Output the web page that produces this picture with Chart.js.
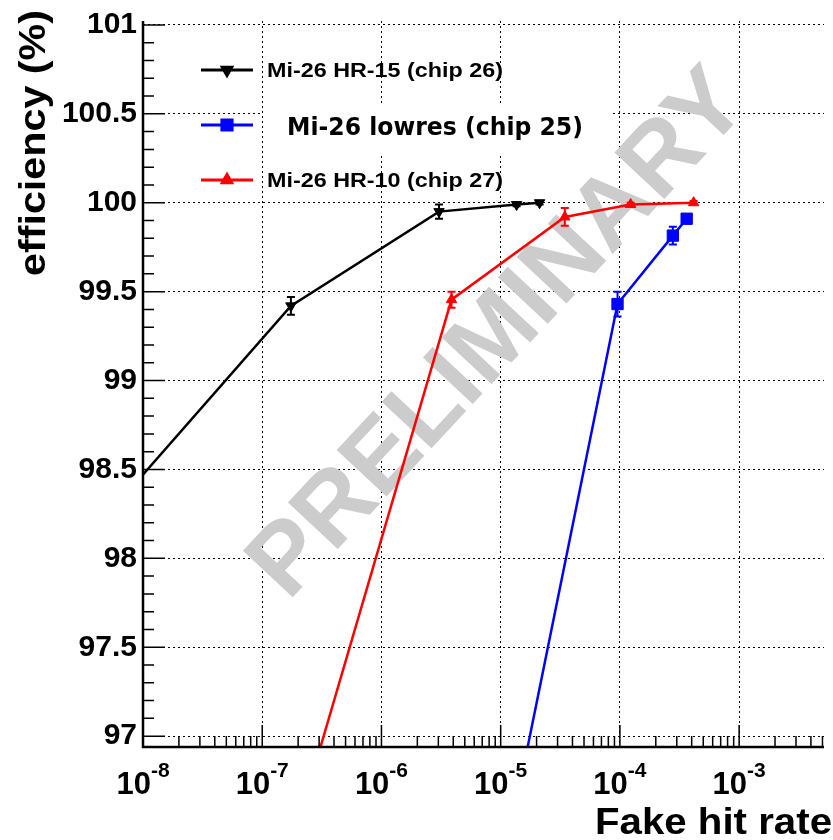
<!DOCTYPE html>
<html>
<head>
  <meta charset="UTF-8">
  <title>Efficiency vs fake hit rate</title>
  <script src="https://cdn.jsdelivr.net/npm/chart.js"></script>
  <style>
    body {
      margin: 0;
      background: #fff;
    }
    #wrap {
      width: 833px;
      height: 840px;
    }
  </style>
</head>
<body>
  <div id="wrap"><canvas id="eff" width="833" height="840"></canvas></div>

  <script>
    const seriesNames = ['Mi-26 HR-15 (chip 26)', 'Mi-26 lowres (chip 25)', 'Mi-26 HR-10 (chip 27)'];

    // fake hit rate, efficiency (%), error on efficiency
    // first point of each series lies outside the frame (line runs off the edge)
    const hr15Rate = [5e-9, 1.74e-7, 3.04e-6, 1.36e-5, 2.12e-5];
    const hr15Eff  = [98.24, 99.42, 99.95, 99.99, 100.0];
    const hr15Err  = [0, 0.05, 0.04, 0.01, 0.01];

    const lowresRate = [1.24e-5, 9.55e-5, 2.78e-4, 3.63e-4];
    const lowresEff  = [96.5, 99.43, 99.815, 99.91];
    const lowresErr  = [0, 0.07, 0.05, 0.01];

    const hr10Rate = [1.98e-7, 3.87e-6, 3.45e-5, 1.23e-4, 4.15e-4];
    const hr10Eff  = [96.5, 99.455, 99.92, 99.99, 100.0];
    const hr10Err  = [0, 0.045, 0.05, 0.01, 0.01];

    const xTickExps = [-8, -7, -6, -5, -4, -3];
    const yTickValues = [97, 97.5, 98, 98.5, 99, 99.5, 100, 100.5, 101];
    const yTickLabels = ['97', '97.5', '98', '98.5', '99', '99.5', '100', '100.5', '101'];

    const FONT = '"Liberation Sans", Arial, sans-serif';
    Chart.defaults.font.family = FONT;

    const toPoints = (xs, ys) => xs.map((x, i) => ({ x: x, y: ys[i] }));

    const series = [
      { name: seriesNames[0], color: '#000000', style: 'triangle', rot: 180, radius: 6, rate: hr15Rate, eff: hr15Eff, err: hr15Err },
      { name: seriesNames[1], color: '#0000ff', style: 'rect', rot: 0, radius: 8, rate: lowresRate, eff: lowresEff, err: lowresErr },
      { name: seriesNames[2], color: '#ff0000', style: 'triangle', rot: 0, radius: 6, rate: hr10Rate, eff: hr10Eff, err: hr10Err }
    ];

    function stretchText(ctx, text, x, y, width, align) {
      const w = ctx.measureText(text).width;
      ctx.save();
      ctx.translate(x, y);
      ctx.scale(width / w, 1);
      ctx.textAlign = align || 'left';
      ctx.fillText(text, 0, 0);
      ctx.restore();
    }

    // watermark + white box behind the middle legend entry
    const underlay = {
      id: 'underlay',
      beforeDatasetsDraw(chart) {
        const ctx = chart.ctx;
        ctx.save();
        ctx.translate(494, 330);
        ctx.rotate(-47 * Math.PI / 180);
        ctx.fillStyle = '#cccccc';
        ctx.font = 'bold 99px ' + FONT;
        ctx.textAlign = 'center';
        ctx.textBaseline = 'alphabetic';
        ctx.fillText('PRELIMINARY', 0, 35);
        ctx.restore();

        ctx.save();
        ctx.fillStyle = '#ffffff';
        ctx.fillRect(263, 105, 348, 48);
        ctx.restore();
      }
    };

    const errorBars = {
      id: 'errorBars',
      afterDatasetsDraw(chart) {
        const ctx = chart.ctx;
        const xs = chart.scales.x, ys = chart.scales.y;
        ctx.save();
        ctx.lineWidth = 2;
        series.forEach(s => {
          ctx.strokeStyle = s.color;
          s.rate.forEach((r, i) => {
            if (!s.err[i]) return;
            const px = xs.getPixelForValue(r);
            const y1 = ys.getPixelForValue(s.eff[i] + s.err[i]);
            const y2 = ys.getPixelForValue(s.eff[i] - s.err[i]);
            ctx.beginPath();
            ctx.moveTo(px, y1); ctx.lineTo(px, y2);
            ctx.moveTo(px - 4, y1); ctx.lineTo(px + 4, y1);
            ctx.moveTo(px - 4, y2); ctx.lineTo(px + 4, y2);
            ctx.stroke();
          });
        });
        ctx.restore();
      }
    };

    // ROOT-style frame: axis lines, inward ticks, 10^n labels, titles, legend
    const frame = {
      id: 'frame',
      afterDraw(chart) {
        const ctx = chart.ctx;
        const a = chart.chartArea;
        const xs = chart.scales.x, ys = chart.scales.y;
        ctx.save();
        ctx.strokeStyle = '#000';
        ctx.fillStyle = '#000';

        ctx.lineWidth = 2.5;
        ctx.beginPath();
        ctx.moveTo(a.left, a.top); ctx.lineTo(a.left, a.bottom); ctx.lineTo(a.right, a.bottom);
        ctx.stroke();

        ctx.lineWidth = 1.5;
        ctx.beginPath();
        for (let k = 0; k <= 40; k++) {
          const v = 97 + k * 0.1;
          const py = ys.getPixelForValue(v);
          const len = k % 5 === 0 ? 22 : 11;
          ctx.moveTo(a.left, py); ctx.lineTo(a.left + len, py);
        }
        for (let e = -8; e <= -3; e++) {
          for (let m = 1; m <= 9; m++) {
            const v = m * Math.pow(10, e);
            if (v > xs.max) continue;
            const px = xs.getPixelForValue(v);
            const len = m === 1 ? 22 : 11;
            ctx.moveTo(px, a.bottom); ctx.lineTo(px, a.bottom - len);
          }
        }
        ctx.stroke();

        xTickExps.forEach(e => {
          const px = xs.getPixelForValue(Math.pow(10, e));
          ctx.font = 'bold 31px ' + FONT;
          const w1 = ctx.measureText('10').width;
          ctx.font = 'bold 21px ' + FONT;
          const sup = '-' + Math.abs(e);
          const w2 = ctx.measureText(sup).width;
          const x0 = px - (w1 + w2) / 2;
          ctx.textAlign = 'left';
          ctx.font = 'bold 31px ' + FONT;
          ctx.fillText('10', x0, 794);
          ctx.font = 'bold 21px ' + FONT;
          ctx.fillText(sup, x0 + w1, 777);
        });

        ctx.font = 'bold 37px ' + FONT;
        stretchText(ctx, 'Fake hit rate', 832, 834, 237, 'right');

        ctx.save();
        ctx.translate(45, 10);
        ctx.rotate(-Math.PI / 2);
        ctx.font = 'bold 36px ' + FONT;
        stretchText(ctx, 'efficiency (%)', 0, 0, 266, 'right');
        ctx.restore();

        const rows = [
          { y: 70, tx: 267, ty: 77, font: 'bold 21px ' + FONT, w: 236 },
          { y: 125, tx: 287, ty: 135, font: 'bold 24px "DejaVu Sans", sans-serif', w: 296 },
          { y: 180, tx: 267, ty: 187, font: 'bold 21px ' + FONT, w: 236 }
        ];
        series.forEach((s, i) => {
          const r = rows[i];
          ctx.strokeStyle = s.color;
          ctx.fillStyle = s.color;
          ctx.lineWidth = 3;
          ctx.beginPath();
          ctx.moveTo(201, r.y); ctx.lineTo(253, r.y);
          ctx.stroke();
          Chart.helpers.drawPoint(ctx, { pointStyle: s.style, rotation: s.rot, radius: s.radius * 0.9, borderWidth: 1 }, 227, r.y);
          ctx.fill();
          ctx.fillStyle = '#000';
          ctx.font = r.font;
          stretchText(ctx, s.name, r.tx, r.ty, r.w, 'left');
        });

        ctx.restore();
      }
    };

    const gridLine = { color: '#000', lineWidth: 1, drawTicks: false };
    const gridBorder = { display: false, dash: [2, 3] };

    new Chart(document.getElementById('eff').getContext('2d'), {
      type: 'scatter',
      data: {
        datasets: series.map(s => ({
          label: s.name,
          data: toPoints(s.rate, s.eff),
          showLine: true,
          borderColor: s.color,
          backgroundColor: s.color,
          borderWidth: 2.5,
          tension: 0,
          pointStyle: s.style,
          rotation: s.rot,
          pointRadius: s.radius,
          pointBorderWidth: 1,
          pointBackgroundColor: s.color,
          pointBorderColor: s.color
        }))
      },
      options: {
        responsive: false,
        animation: false,
        layout: { padding: { top: 15, right: 0, bottom: 0, left: 0 } },
        plugins: {
          legend: { display: false },
          tooltip: { enabled: false }
        },
        scales: {
          x: {
            type: 'logarithmic',
            min: 1e-8,
            max: 5.15e-3,
            afterBuildTicks: s => { s.ticks = xTickExps.map(e => ({ value: Math.pow(10, e) })); },
            afterFit: s => { s.height = 93; },
            ticks: { display: false },
            grid: gridLine,
            border: gridBorder
          },
          y: {
            type: 'linear',
            min: 96.939,
            max: 101.022,
            afterBuildTicks: s => { s.ticks = yTickValues.map(v => ({ value: v })); },
            afterFit: s => { s.width = 143; },
            ticks: {
              color: '#000',
              padding: 6,
              font: { size: 30, weight: 'bold', lineHeight: 1 },
              callback: (v, i) => yTickLabels[i]
            },
            grid: gridLine,
            border: gridBorder
          }
        }
      },
      plugins: [underlay, errorBars, frame]
    });
  </script>
</body>
</html>
